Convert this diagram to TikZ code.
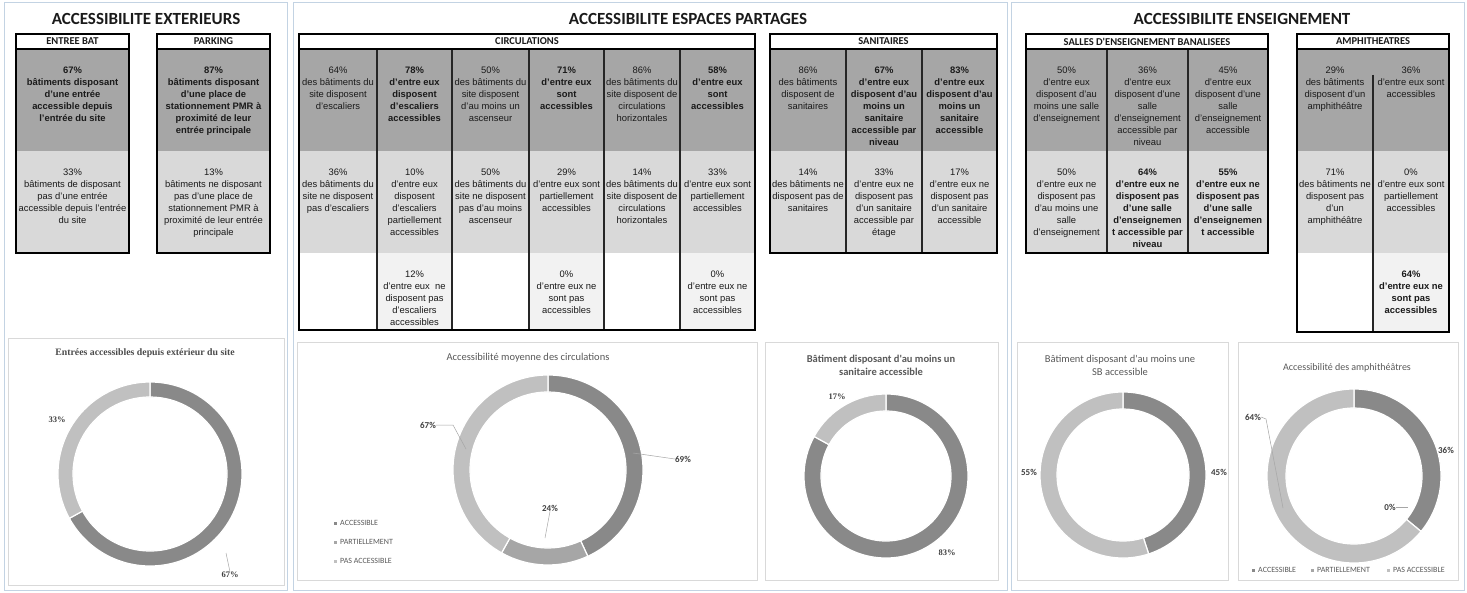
\documentclass[tikz,border=0pt]{standalone}
\usepackage{fontspec}
\setmainfont{Liberation Sans}
\newfontfamily\calfont{Carlito}
\newfontfamily\serfont{Liberation Serif}
\usetikzlibrary{calc}
\definecolor{dk}{HTML}{A6A6A6}
\definecolor{lt}{HTML}{D9D9D9}
\definecolor{vl}{HTML}{F2F2F2}
\definecolor{panelc}{HTML}{C3D3E3}
\definecolor{boxc}{HTML}{D9D9D9}
\definecolor{segA}{HTML}{898989}
\definecolor{segP}{HTML}{A6A6A6}
\definecolor{segN}{HTML}{C0C0C0}
\definecolor{txt}{HTML}{1A1A1A}
\definecolor{gtxt}{HTML}{595959}
\newcommand\dseg[6]{\filldraw[seg, fill=#6] ($(#1)+(#4:#2)$) arc[start angle=#4, end angle=#5, radius=#2] -- ($(#1)+(#5:#3)$) arc[start angle=#5, end angle=#4, radius=#3] -- cycle;}
\begin{document}
\begin{tikzpicture}[x=1pt,y=-1pt,
 panel/.style={draw=panelc, line width=1pt},
 chartbox/.style={draw=boxc, line width=0.8pt},
 tbl/.style={draw=black, line width=1.6pt},
 div/.style={draw=black!85, line width=1.1pt},
 ct/.style={anchor=north, align=center, inner sep=0pt, font=\fontsize{9.4}{12}\selectfont, text=txt},
 ctb/.style={ct, font=\fontsize{9.4}{12}\selectfont\bfseries},
 hd/.style={font=\calfont\bfseries\fontsize{10.5}{12}\selectfont, inner sep=0pt, text=txt},
 ptitle/.style={font=\calfont\bfseries\fontsize{17}{20}\selectfont, inner sep=0pt, text=txt},
 chtitle/.style={font=\calfont\fontsize{10.5}{13}\selectfont, text=gtxt, align=center, inner sep=0pt},
 pct/.style={font=\calfont\bfseries\fontsize{9}{10}\selectfont, text=black!75, inner sep=0pt},
 pcts/.style={font=\serfont\bfseries\fontsize{8.5}{10}\selectfont, text=black!75, inner sep=0pt},
 leader/.style={draw=gray!70, line width=0.5pt},
 seg/.style={draw=white, line width=1.2pt},
 leg/.style={font=\calfont\fontsize{8}{9}\selectfont, text=gtxt, inner sep=0pt, anchor=west},
]
\useasboundingbox (0,0) rectangle (1467,593);
\fill[white] (0,0) rectangle (1467,593);
% panels
\draw[panel] (4,3) rectangle (287,590);
\draw[panel] (293,3) rectangle (1007,590);
\draw[panel] (1011,3) rectangle (1464,590);
\draw[chartbox] (8,338) rectangle (284,585);
\draw[chartbox] (297,342) rectangle (757,580);
\draw[chartbox] (765,342) rectangle (998,580);
\draw[chartbox] (1017,342) rectangle (1228,580);
\draw[chartbox] (1238,342) rectangle (1458,580);
% titles
\node[ptitle] (t1) at (146,19) {ACCESSIBILITE EXTERIEURS};
\node[ptitle] (t2) at (688,19) {ACCESSIBILITE ESPACES PARTAGES};
\node[ptitle] (t3) at (1242,19) {ACCESSIBILITE ENSEIGNEMENT};

% ENTREE BAT
\fill[dk] (16,49) rectangle (129,151); \fill[lt] (16,151) rectangle (129,253);
\draw[tbl] (16,34) rectangle (129,253); \draw[tbl] (16,49) -- (129,49);
\node[hd] (hEB) at (72.5,41.5) {ENTREE BAT};
\node[ctb] (eb1) at (72.5,67) {67\%\\bâtiments disposant\\d'une entrée\\accessible depuis\\l'entrée du site};
\node[ct] (eb2) at (72.5,169) {33\%\\bâtiments de disposant\\pas d'une entrée\\accessible depuis l'entrée\\du site};
% PARKING
\fill[dk] (157,49) rectangle (270,151); \fill[lt] (157,151) rectangle (270,253);
\draw[tbl] (157,34) rectangle (270,253); \draw[tbl] (157,49) -- (270,49);
\node[hd] (hPK) at (213.5,41.5) {PARKING};
\node[ctb] (pk1) at (213.5,67) {87\%\\bâtiments disposant\\d'une place de\\stationnement PMR à\\proximité de leur\\entrée principale};
\node[ct] (pk2) at (213.5,169) {13\%\\bâtiments ne disposant\\pas d'une place de\\stationnement PMR à\\proximité de leur entrée\\principale};

% CIRCULATIONS
\fill[dk] (299,49) rectangle (755,151); \fill[lt] (299,151) rectangle (755,253);
\fill[vl] (377,253) rectangle (452,330); \fill[vl] (529,253) rectangle (604,330); \fill[vl] (680,253) rectangle (755,330);
\foreach \xx in {377,452,529,604,680} \draw[div] (\xx,49) -- (\xx,330);
\draw[tbl] (299,34) rectangle (755,330); \draw[tbl] (299,49) -- (755,49);
\node[hd] (hCI) at (527,41.5) {CIRCULATIONS};
\node[ct] (ci11) at (338,67) {64\%\\des bâtiments du\\site disposent\\d'escaliers};
\node[ct] (ci12) at (338,169) {36\%\\des bâtiments du\\site ne disposent\\pas d'escaliers};
\node[ctb] (ci21) at (414.5,67) {78\%\\d'entre eux\\disposent\\d'escaliers\\accessibles};
\node[ct] (ci22) at (414.5,169) {10\%\\d'entre eux\\disposent\\d'escaliers\\partiellement\\accessibles};
\node[ct] (ci23) at (414.5,271) {12\%\\d'entre eux\ \ ne\\disposent pas\\d'escaliers\\accessibles};
\node[ct] (ci31) at (490.5,67) {50\%\\des bâtiments du\\site disposent\\d'au moins un\\ascenseur};
\node[ct] (ci32) at (490.5,169) {50\%\\des bâtiments du\\site ne disposent\\pas d'au moins\\ascenseur};
\node[ctb] (ci41) at (566.5,67) {71\%\\d'entre eux\\sont\\accessibles};
\node[ct] (ci42) at (566.5,169) {29\%\\d'entre eux sont\\partiellement\\accessibles};
\node[ct] (ci43) at (566.5,271) {0\%\\d'entre eux ne\\sont pas\\accessibles};
\node[ct] (ci51) at (642,67) {86\%\\des bâtiments du\\site disposent de\\circulations\\horizontales};
\node[ct] (ci52) at (642,169) {14\%\\des bâtiments du\\site disposent de\\circulations\\horizontales};
\node[ctb] (ci61) at (717.5,67) {58\%\\d'entre eux\\sont\\accessibles};
\node[ct] (ci62) at (717.5,169) {33\%\\d'entre eux sont\\partiellement\\accessibles};
\node[ct] (ci63) at (717.5,271) {0\%\\d'entre eux ne\\sont pas\\accessibles};

% SANITAIRES
\fill[dk] (770,49) rectangle (997,151); \fill[lt] (770,151) rectangle (997,253);
\foreach \xx in {846,922} \draw[div] (\xx,49) -- (\xx,253);
\draw[tbl] (770,34) rectangle (997,253); \draw[tbl] (770,49) -- (997,49);
\node[hd] (hSA) at (883.5,41.5) {SANITAIRES};
\node[ct] (sa11) at (808,67) {86\%\\des bâtiments\\disposent de\\sanitaires};
\node[ct] (sa12) at (808,169) {14\%\\des bâtiments ne\\disposent pas de\\sanitaires};
\node[ctb] (sa21) at (884,67) {67\%\\d'entre eux\\disposent d'au\\moins un\\sanitaire\\accessible par\\niveau};
\node[ct] (sa22) at (884,169) {33\%\\d'entre eux ne\\disposent pas\\d'un sanitaire\\accessible par\\étage};
\node[ctb] (sa31) at (959.5,67) {83\%\\d'entre eux\\disposent d'au\\moins un\\sanitaire\\accessible};
\node[ct] (sa32) at (959.5,169) {17\%\\d'entre eux ne\\disposent pas\\d'un sanitaire\\accessible};

% SALLES
\fill[dk] (1026,49) rectangle (1268,151); \fill[lt] (1026,151) rectangle (1268,253);
\foreach \xx in {1107,1188} \draw[div] (\xx,49) -- (\xx,253);
\draw[tbl] (1026,34) rectangle (1268,253); \draw[tbl] (1026,49) -- (1268,49);
\node[hd] (hSB) at (1147,41.5) {SALLES D'ENSEIGNEMENT BANALISEES};
\node[ct] (sb11) at (1066.5,67) {50\%\\d'entre eux\\disposent d'au\\moins une salle\\d'enseignement};
\node[ct] (sb12) at (1066.5,169) {50\%\\d'entre eux ne\\disposent pas\\d'au moins une\\salle\\d'enseignement};
\node[ct] (sb21) at (1147.5,67) {36\%\\d'entre eux\\disposent d'une\\salle\\d'enseignement\\accessible par\\niveau};
\node[ctb] (sb22) at (1147.5,169) {64\%\\d'entre eux ne\\disposent pas\\d'une salle\\d'enseignemen\\t accessible par\\niveau};
\node[ct] (sb31) at (1228,67) {45\%\\d'entre eux\\disposent d'une\\salle\\d'enseignement\\accessible};
\node[ctb] (sb32) at (1228,169) {55\%\\d'entre eux ne\\disposent pas\\d'une salle\\d'enseignemen\\t accessible};

% AMPHITHEATRES
\fill[dk] (1297,49) rectangle (1449,151); \fill[lt] (1297,151) rectangle (1449,253);
\fill[vl] (1373,253) rectangle (1449,332);
\draw[div] (1373,75) -- (1373,332);
\draw[tbl] (1297,34) rectangle (1449,332); \draw[tbl] (1297,49) -- (1449,49);
\node[hd] (hAM) at (1373,41.5) {AMPHITHEATRES};
\node[ct] (am11) at (1335,67) {29\%\\des bâtiments\\disposent d'un\\amphithéâtre};
\node[ct] (am12) at (1335,169) {71\%\\des bâtiments ne\\disposent pas\\d'un\\amphithéâtre};
\node[ct] (am21) at (1411,67) {36\%\\d'entre eux sont\\accessibles};
\node[ct] (am22) at (1411,169) {0\%\\d'entre eux sont\\partiellement\\accessibles};
\node[ctb] (am23) at (1411,271) {64\%\\d'entre eux ne\\sont pas\\accessibles};

% ===== Chart 1
\node[chtitle, font=\serfont\bfseries\fontsize{9.8}{12}\selectfont, text=black!70] (ch1) at (145,353) {Entrées accessibles depuis extérieur du site};
\coordinate (d1) at (150,474);
\dseg{d1}{92pt}{77pt}{90}{-151.2}{segA}
\dseg{d1}{92pt}{77pt}{-151.2}{-270}{segN}
\node[pcts] (p1a) at (57,420) {33\%};
\node[pcts] (p1b) at (230,575) {67\%};
\coordinate (q1b) at (226,553);
\draw[leader] (q1b) -- (p1b.north);

% ===== Chart 2
\node[chtitle] (ch2) at (528,358) {Accessibilité moyenne des circulations};
\coordinate (d2) at (548,470);
\dseg{d2}{95pt}{78pt}{90}{-65.25}{segA}
\dseg{d2}{95pt}{78pt}{-65.25}{-119.25}{segP}
\dseg{d2}{95pt}{78pt}{-119.25}{-270}{segN}
\node[pct] (p2a) at (683,459) {69\%};
\node[pct] (p2b) at (550,508) {24\%};
\node[pct] (p2c) at (428,425) {67\%};
\coordinate (q2a) at (633,453);
\coordinate (q2b) at (545,538);
\coordinate (q2c) at (466,449);
\coordinate (q2ck) at (453,425);
\draw[leader] (q2a) -- (p2a.west);
\draw[leader] (q2b) -- (p2b.south);
\draw[leader] (p2c.east) -- (q2ck) -- (q2c);
\fill[segA] (333.5,521.5) rectangle (336.5,524.5);
\node[leg] (lg2a) at (340,523) {ACCESSIBLE};
\fill[segP] (333.5,540.5) rectangle (336.5,543.5);
\node[leg] (lg2b) at (340,542) {PARTIELLEMENT};
\fill[segN] (333.5,559.5) rectangle (336.5,562.5);
\node[leg] (lg2c) at (340,561) {PAS ACCESSIBLE};

% ===== Chart 3
\node[chtitle, font=\calfont\bfseries\fontsize{10.5}{13}\selectfont] (ch3) at (881,365.5) {Bâtiment disposant d'au moins un\\sanitaire accessible};
\coordinate (d3) at (886,476);
\dseg{d3}{82pt}{65pt}{90}{-208.8}{segA}
\dseg{d3}{82pt}{65pt}{-208.8}{-270}{segN}
\node[pcts] (p3a) at (837,397) {17\%};
\node[pcts] (p3b) at (947,553) {83\%};

% ===== Chart 4
\node[chtitle] (ch4) at (1120,365.5) {Bâtiment disposant d'au moins une\\SB accessible};
\coordinate (d4) at (1123,475);
\dseg{d4}{83pt}{66pt}{90}{-72}{segA}
\dseg{d4}{83pt}{66pt}{-72}{-270}{segN}
\node[pct] (p4a) at (1029,472) {55\%};
\node[pct] (p4b) at (1219,472) {45\%};

% ===== Chart 5
\node[chtitle, font=\calfont\fontsize{10}{13}\selectfont] (ch5) at (1347,368) {Accessibilité des amphithéâtres};
\coordinate (d5) at (1354,476);
\dseg{d5}{87pt}{68pt}{90}{-39.6}{segA}
\dseg{d5}{87pt}{68pt}{-39.6}{-270}{segN}
\node[pct] (p5a) at (1253,417) {64\%};
\node[pct] (p5b) at (1446,450) {36\%};
\node[pct] (p5c) at (1390,507) {0\%};
\coordinate (q5a) at (1283,508);
\coordinate (q5ak) at (1266,419);
\coordinate (q5c) at (1408,507);
\draw[leader] (p5a.east) -- (q5ak) -- (q5a);
\draw[leader] (p5c.east) -- (q5c);
\fill[segA] (1251.5,568.5) rectangle (1254.5,571.5);
\node[leg] (lg5a) at (1258,570) {ACCESSIBLE};
\fill[segP] (1310.5,568.5) rectangle (1313.5,571.5);
\node[leg] (lg5b) at (1317,570) {PARTIELLEMENT};
\fill[segN] (1386.5,568.5) rectangle (1389.5,571.5);
\node[leg] (lg5c) at (1393,570) {PAS ACCESSIBLE};
\end{tikzpicture}
\end{document}
